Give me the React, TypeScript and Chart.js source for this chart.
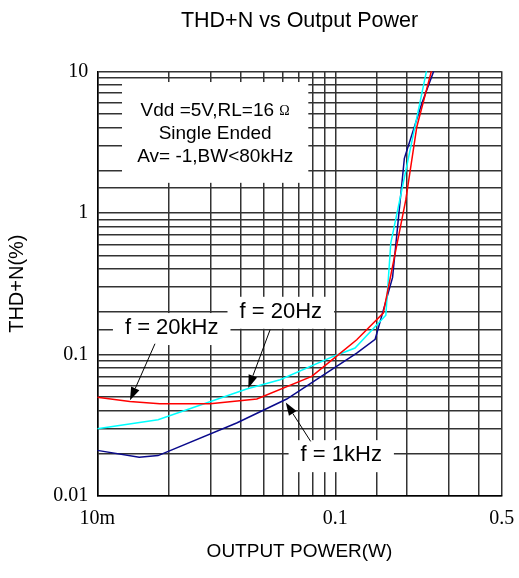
import React, { useEffect, useRef } from 'react';
import { Chart, registerables } from 'chart.js';

Chart.register(...registerables);

const SANS = '"Liberation Sans", Arial, sans-serif';
const SERIF = '"Liberation Serif", "Times New Roman", serif';

const TITLE = 'THD+N vs Output Power';
const X_TITLE = 'OUTPUT POWER(W)';
const Y_TITLE = 'THD+N(%)';

const X_MIN = 0.01;
const X_MAX = 0.5;
const Y_MIN = 0.01;
const Y_MAX = 10;

const xLabelValues = [0.01, 0.1, 0.5];
const xLabelTexts = ['10m', '0.1', '0.5'];
const yLabelValues = [0.01, 0.1, 1, 10];
const yLabelTexts = ['0.01', '0.1', '1', '10'];

// f = 20kHz (red)
const power20k = [0.01, 0.0137, 0.0183, 0.0298, 0.0468, 0.0796, 0.101, 0.123, 0.159, 0.1977, 0.22, 0.254];
const thd20k = [0.0498, 0.0466, 0.0449, 0.0449, 0.0484, 0.07, 0.0968, 0.127, 0.196, 1.235, 4.06, 10.2];

// f = 20Hz (cyan)
const power20 = [0.01, 0.018, 0.0424, 0.0586, 0.098, 0.121, 0.163, 0.171, 0.242];
const thd20 = [0.0299, 0.0346, 0.057, 0.0663, 0.0968, 0.111, 0.189, 0.611, 10.2];

// f = 1kHz (navy)
const power1k = [0.01, 0.015, 0.018, 0.0385, 0.0625, 0.123, 0.147, 0.174, 0.195, 0.231, 0.259];
const thd1k = [0.021, 0.0188, 0.0193, 0.0328, 0.0484, 0.102, 0.128, 0.35, 2.43, 5.94, 10];

// conditions note box (data coordinates)
const noteLines = ['Vdd =5V,RL=16 ', 'Single Ended', 'Av= -1,BW<80kHz'];
const noteUnit = 'Ω';
const noteBoxX = [0.0127, 0.077];
const noteBoxY = [1.63, 8.4];

// curve labels with arrows (data coordinates)
const labelTexts = ['f = 20kHz', 'f = 20Hz', 'f = 1kHz'];
const labelX = [0.02054, 0.059, 0.1059];
const labelY = [0.1536, 0.2001, 0.01943];
const arrowFromX = [0.01747, 0.0532, 0.0788];
const arrowFromY = [0.119, 0.1494, 0.0243];
const arrowToX = [0.01372, 0.0431, 0.0619];
const arrowToY = [0.0474, 0.0579, 0.0458];

const near = (a: number, b: number) => Math.abs(Math.log10(a) - Math.log10(b)) < 1e-6;

const notesPlugin = {
  id: 'notes',
  beforeDatasetsDraw(chart: any) {
    const { ctx } = chart;
    const xs = chart.scales.x;
    const ys = chart.scales.y;
    ctx.save();
    // note box
    const bx0 = xs.getPixelForValue(noteBoxX[0]);
    const bx1 = xs.getPixelForValue(noteBoxX[1]);
    const by0 = ys.getPixelForValue(noteBoxY[1]);
    const by1 = ys.getPixelForValue(noteBoxY[0]);
    ctx.fillStyle = '#ffffff';
    ctx.fillRect(bx0, by0, bx1 - bx0, by1 - by0);
    const cx = (bx0 + bx1) / 2;
    const cy = (by0 + by1) / 2 + 1;
    ctx.fillStyle = '#000';
    ctx.textBaseline = 'middle';
    const unitFont = `14px ${SERIF}`;
    noteLines.forEach((line, i) => {
      const ly = cy + (i - 1) * 23;
      if (i === 0) {
        ctx.font = `19px ${SANS}`;
        const w1 = ctx.measureText(line).width;
        ctx.font = unitFont;
        const w2 = ctx.measureText(noteUnit).width;
        const left = cx - (w1 + w2) / 2;
        ctx.textAlign = 'left';
        ctx.font = `19px ${SANS}`;
        ctx.fillText(line, left, ly);
        ctx.font = unitFont;
        ctx.fillText(noteUnit, left + w1, ly + 1);
      } else {
        ctx.font = `19px ${SANS}`;
        ctx.textAlign = 'center';
        ctx.fillText(line, cx, ly);
      }
    });
    // curve labels
    ctx.font = `22px ${SANS}`;
    labelTexts.forEach((t, i) => {
      const px = xs.getPixelForValue(labelX[i]);
      const py = ys.getPixelForValue(labelY[i]);
      const w = ctx.measureText(t).width;
      ctx.fillStyle = '#ffffff';
      ctx.fillRect(px - w / 2 - 12, py - 15, w + 24, 32);
      ctx.fillStyle = '#000';
      ctx.textAlign = 'center';
      ctx.textBaseline = 'middle';
      ctx.fillText(t, px, py);
    });
    ctx.restore();
  },
  afterDatasetsDraw(chart: any) {
    const { ctx } = chart;
    const xs = chart.scales.x;
    const ys = chart.scales.y;
    ctx.save();
    ctx.strokeStyle = '#000';
    ctx.fillStyle = '#000';
    ctx.lineWidth = 1;
    labelTexts.forEach((_, i) => {
      const x0 = xs.getPixelForValue(arrowFromX[i]);
      const y0 = ys.getPixelForValue(arrowFromY[i]);
      const x1 = xs.getPixelForValue(arrowToX[i]);
      const y1 = ys.getPixelForValue(arrowToY[i]);
      const ang = Math.atan2(y1 - y0, x1 - x0);
      const len = 13;
      const hw = 4.5;
      const bx = x1 - len * Math.cos(ang);
      const by = y1 - len * Math.sin(ang);
      ctx.beginPath();
      ctx.moveTo(x0, y0);
      ctx.lineTo(bx, by);
      ctx.stroke();
      ctx.beginPath();
      ctx.moveTo(x1, y1);
      ctx.lineTo(bx + hw * Math.sin(ang), by - hw * Math.cos(ang));
      ctx.lineTo(bx - hw * Math.sin(ang), by + hw * Math.cos(ang));
      ctx.closePath();
      ctx.fill();
    });
    ctx.restore();
  },
};

export default function App() {
  const ref = useRef<HTMLCanvasElement>(null);
  useEffect(() => {
    const canvas = ref.current!;
    const mk = (xs: number[], ys: number[]) => xs.map((x, i) => ({ x, y: ys[i] }));
    const lineStyle = { borderWidth: 1.5, pointRadius: 0, tension: 0, fill: false };
    const chart = new Chart(canvas, {
      type: 'line',
      data: {
        datasets: [
          { label: labelTexts[0], data: mk(power20k, thd20k), borderColor: '#ff0000', ...lineStyle },
          { label: labelTexts[1], data: mk(power20, thd20), borderColor: '#00ffff', ...lineStyle },
          { label: labelTexts[2], data: mk(power1k, thd1k), borderColor: '#0a0a8c', ...lineStyle },
        ],
      },
      options: {
        responsive: false,
        animation: false,
        layout: { padding: { left: 0, right: 17.3, top: 0, bottom: 0 } },
        plugins: {
          legend: { display: false },
          tooltip: { enabled: false },
          title: {
            display: true,
            text: TITLE,
            fullSize: false,
            color: '#000',
            font: { family: SANS, size: 21.5, weight: 'normal' },
            padding: { top: 8, bottom: 37.5 },
          },
        },
        scales: {
          x: {
            type: 'logarithmic',
            min: X_MIN,
            max: X_MAX,
            position: 'bottom',
            grid: { color: '#333', lineWidth: 1.5, drawTicks: false },
            border: { color: '#000', width: 1.5 },
            ticks: {
              autoSkip: false,
              maxRotation: 0,
              minRotation: 0,
              padding: 1,
              color: '#000',
              font: { family: SERIF, size: 20, lineHeight: 2.2 },
              callback: (v: any) => {
                const i = xLabelValues.findIndex((t) => near(Number(v), t));
                return i >= 0 ? xLabelTexts[i] : '';
              },
            },
            title: {
              display: true,
              text: X_TITLE,
              color: '#000',
              font: { family: SANS, size: 19 },
              padding: { top: 0, bottom: 14.5 },
            },
            afterFit: (s: any) => {
              s.height = 82;
            },
          },
          y: {
            type: 'logarithmic',
            min: Y_MIN,
            max: Y_MAX,
            position: 'left',
            grid: { color: '#333', lineWidth: 1.5, drawTicks: false },
            border: { color: '#000', width: 1.5 },
            ticks: {
              autoSkip: false,
              padding: 9,
              color: '#000',
              font: { family: SERIF, size: 20 },
              callback: (v: any) => {
                const i = yLabelValues.findIndex((t) => near(Number(v), t));
                return i >= 0 ? yLabelTexts[i] : '';
              },
            },
            title: {
              display: true,
              text: Y_TITLE,
              color: '#000',
              font: { family: SANS, size: 20 },
              padding: { top: 5.5, bottom: 0 },
            },
            afterFit: (s: any) => {
              s.width = 97.3;
            },
          },
        },
      },
      plugins: [notesPlugin],
    } as any);
    return () => chart.destroy();
  }, []);
  return (
    <div style={{ position: 'fixed', left: 0, top: 0, width: 519, height: 578, background: '#fff' }}>
      <canvas ref={ref} width={519} height={578} />
    </div>
  );
}
